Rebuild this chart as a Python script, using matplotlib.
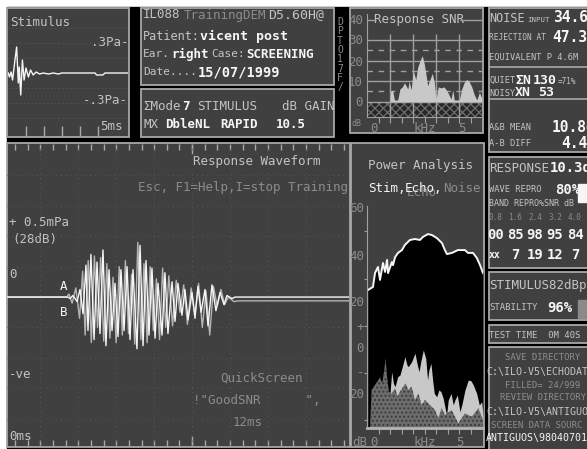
import numpy as np
import matplotlib
matplotlib.use("Agg")
import matplotlib.pyplot as plt
from matplotlib.patches import Rectangle

# ─── DATA ─────────────────────────────────────────────────────────────────────

# stimulus click: time (ms) / pressure (Pa)
stim_t = [0.01, 0.06, 0.13, 0.19, 0.29, 0.36, 0.43, 0.47, 0.53, 0.60, 0.67, 0.75,
          0.85, 0.94, 1.05, 1.17, 1.31, 1.47, 1.68, 1.89, 2.10, 2.24, 3.63, 3.69,
          3.95, 4.04, 5.0]
stim_pa = [0.0, -0.04, 0.01, -0.07, 0.13, 0.26, -0.10, 0.06, -0.22, 0.13, -0.07, 0.05,
           -0.04, 0.03, -0.02, 0.01, -0.01, 0.0, -0.01, 0.0, -0.01, 0.0, 0.0, -0.02,
           -0.02, 0.0, 0.0]

# response waveform, buffer A: time (ms) / pressure (mPa)
wave_a_t = [0.0, 4.92, 5.08, 5.32, 5.65, 5.89, 6.13, 6.37, 6.53, 6.77, 7.02, 7.26,
            7.50, 7.74, 7.98, 8.23, 8.47, 8.71, 8.95, 9.19, 9.44, 9.68, 9.92, 10.16,
            10.48, 10.73, 10.97, 11.21, 11.45, 11.69, 11.94, 12.18, 12.50, 12.74,
            12.98, 13.31, 13.55, 13.79, 14.11, 14.35, 14.60, 14.92, 15.16, 15.40,
            15.65, 15.97, 16.21, 16.53, 16.85, 17.18, 17.50, 17.74, 18.15, 18.39, 27.58]
wave_a_mpa = [0.0, 0.0, -0.01, 0.01, -0.03, 0.05, -0.11, 0.21, -0.22, 0.28, -0.28, 0.23,
              -0.24, 0.31, -0.32, 0.18, -0.22, 0.09, -0.26, 0.18, -0.22, 0.20, -0.28,
              0.18, -0.34, 0.34, -0.32, 0.24, -0.25, 0.19, -0.27, 0.09, -0.25, 0.16,
              -0.24, 0.10, -0.16, 0.09, -0.12, 0.05, -0.15, 0.03, -0.14, 0.07, -0.10,
              0.05, -0.19, 0.08, -0.09, 0.03, -0.05, 0.01, -0.01, 0.0, 0.0]

# response waveform, buffer B
wave_b_t = [0.0, 4.80, 5.00, 5.25, 5.55, 5.85, 6.10, 6.30, 6.55, 6.80, 7.05, 7.30,
            7.55, 7.80, 8.05, 8.30, 8.55, 8.80, 9.05, 9.30, 9.55, 9.80, 10.05, 10.30,
            10.55, 10.80, 11.05, 11.30, 11.55, 11.80, 12.05, 12.30, 12.55, 12.80,
            13.05, 13.35, 13.65, 13.95, 14.25, 14.55, 14.85, 15.15, 15.45, 15.75,
            16.05, 16.35, 16.65, 16.95, 17.25, 17.55, 17.85, 18.30, 18.70, 27.58]
wave_b_mpa = [0.0, 0.0, 0.02, -0.04, 0.06, -0.14, 0.17, -0.25, 0.24, -0.30, 0.27, -0.20,
              0.26, -0.29, 0.22, -0.27, 0.13, -0.30, 0.20, -0.25, 0.24, -0.24, 0.15,
              -0.31, 0.36, -0.28, 0.22, -0.30, 0.20, -0.22, 0.12, -0.28, 0.19, -0.20,
              0.14, -0.19, 0.11, -0.10, 0.08, -0.18, 0.06, -0.12, 0.09, -0.20, 0.04,
              -0.25, 0.07, -0.06, 0.05, -0.05, 0.0, -0.03, -0.025, -0.025]

# response SNR spectrum: kHz / dB
snr_khz = [1.24, 1.27, 1.38, 1.47, 1.65, 1.77, 1.90, 2.01, 2.10, 2.19, 2.27, 2.37,
           2.49, 2.62, 2.72, 2.85, 2.97, 3.08, 3.17, 3.26, 3.35, 3.51, 3.62, 3.71,
           3.83, 3.98, 4.14, 4.28, 4.41, 4.52, 4.61, 4.69, 4.96, 5.09, 5.23, 5.36,
           5.48, 5.63, 5.77, 5.90, 6.04, 6.17]
snr_db = [0, 5.0, 5.5, 0.8, 0.8, 6.2, 7.2, 9.2, 7.8, 6.2, 10.0, 5.8, 15.0, 10.8,
          16.7, 20.0, 22.5, 18.3, 13.3, 7.8, 10.0, 13.8, 9.2, 1.2, 7.2, 6.7, 7.2,
          5.5, 3.3, 1.2, 5.8, 0.8, 0.8, 6.2, 9.5, 10.8, 10.0, 7.2, 3.3, 0.8, 4.5, 1.7]

# power analysis: stimulus, echo and noise spectra, kHz / dB
pw_khz = [0.05, 0.32, 0.43, 0.59, 0.70, 0.86, 0.97, 1.08, 1.13, 1.34, 1.40, 1.51,
          1.67, 1.88, 2.04, 2.31, 2.58, 2.85, 3.01, 3.28, 3.49, 3.76, 4.03, 4.19,
          4.30, 4.57, 4.89, 5.27, 5.43, 5.70, 5.91, 6.08, 6.24]
pw_db = [25.1, 26.4, 32.3, 34.9, 29.4, 36.6, 32.8, 37.9, 32.3, 37.0, 35.7, 39.1,
         40.9, 42.1, 44.3, 46.4, 46.8, 46.4, 47.7, 48.9, 48.5, 47.2, 45.1, 42.1,
         40.4, 40.9, 42.1, 42.1, 40.9, 40.9, 38.7, 35.7, 32.3]
echo_khz = [1.20, 1.25, 1.33, 1.42, 1.51, 1.65, 1.77, 1.90, 2.04, 2.15, 2.22, 2.40,
            2.58, 2.71, 2.80, 2.89, 3.03, 3.16, 3.26, 3.33, 3.44, 3.53, 3.62, 3.75,
            3.87, 3.98, 4.10, 4.19, 4.28, 4.37, 4.52, 4.64, 4.73, 4.86, 5.00, 5.12,
            5.27, 5.45, 5.59, 5.72, 5.90, 6.04, 6.17, 6.25]
echo_db = [-33.6, -17.4, -9.7, -14.6, -16.0, -11.8, -11.1, -7.5, -3.3, -6.8, -7.5,
           -5.4, -1.8, -6.8, -9.7, -5.4, -0.4, -4.0, -13.2, -8.9, -6.1, -13.2, -18.9,
           -20.3, -17.4, -18.2, -21.0, -24.6, -28.1, -21.7, -18.9, -23.8, -21.7,
           -19.6, -26.7, -23.1, -17.4, -13.2, -13.5, -15.3, -18.9, -23.8, -22.4, -28.8]
noise_khz = [0.16, 0.25, 0.43, 0.61, 0.70, 0.82, 0.93, 1.00, 1.08, 1.18, 1.33, 1.51,
             1.65, 1.77, 1.95, 2.08, 2.22, 2.40, 2.58, 2.76, 2.94, 3.12, 3.39, 3.66,
             3.83, 4.02, 4.19, 4.55, 4.91, 5.27, 5.63, 5.99, 6.25]
noise_db = [-33.6, -17.4, -15.3, -13.2, -12.0, -14.6, -8.9, -4.0, -11.8, -18.2, -18.9,
            -16.7, -20.3, -18.2, -16.0, -14.6, -17.4, -16.0, -21.7, -18.9, -23.8,
            -21.7, -23.8, -26.0, -29.5, -25.2, -28.1, -26.0, -31.6, -27.4, -28.8,
            -25.2, -30.2]

# band table in the RESPONSE box
band_khz = ["0.8", "1.6", "2.4", "3.2", "4.0"]
band_repro = ["00", "85", "98", "95", "84"]
band_snr = ["xx", "7", "19", "12", "7"]

# ─── STYLE ────────────────────────────────────────────────────────────────────

W, H = 587, 449
SCREEN = "#000000"
PANEL = "#404040"
EDGE = "#a8a8a8"
TXT = "#c4c4c4"
DIM = "#8c8c8c"
BRIGHT = "#f6f6f6"
LIGHTFILL = "#c8c8c8"
MONO = "DejaVu Sans Mono"
plt.rcParams["hatch.linewidth"] = 0.9

fig = plt.figure(figsize=(W / 100, H / 100), dpi=100)
fig.patch.set_facecolor("white")

# screen layer in pixel units, origin top-left
scr = fig.add_axes([0, 0, 1, 1])
scr.set_xlim(0, W)
scr.set_ylim(H, 0)
scr.axis("off")
scr.add_patch(Rectangle((7, 7), W, H, color=SCREEN, zorder=0))


def panel(x0, y0, x1, y1):
    scr.add_patch(Rectangle((x0, y0), x1 - x0, y1 - y0, facecolor=PANEL,
                            edgecolor=EDGE, lw=1.3, zorder=1))


def txt(x, y, s, size=9, color=TXT, weight="normal", ha="left", **kw):
    scr.text(x, y, s, fontsize=size, color=color, fontweight=weight, ha=ha,
             va="center", family=MONO, zorder=5, **kw)


def inset(x0, y0, x1, y1):
    ax = fig.add_axes([x0 / W, 1 - y1 / H, (x1 - x0) / W, (y1 - y0) / H])
    ax.patch.set_alpha(0)
    for s in ax.spines.values():
        s.set_visible(False)
    ax.set_xticks([])
    ax.set_yticks([])
    return ax


# ─── PANELS ───────────────────────────────────────────────────────────────────

panel(7, 8, 129, 137)        # stimulus
panel(141, 8, 334, 85)       # patient info
panel(141, 89, 334, 137)     # mode / gain
panel(350, 8, 483, 133)      # response SNR
panel(489, 8, 600, 152)      # noise
panel(489, 157, 600, 268)    # response
panel(489, 272, 600, 320)    # stimulus level
panel(489, 325, 600, 343)    # test time
panel(489, 347, 600, 460)    # directories
panel(7, 143, 350, 447)      # response waveform
panel(351, 143, 484, 447)    # power analysis

# ─── STIMULUS ─────────────────────────────────────────────────────────────────

ax = inset(8, 9, 128, 136)
ax.set_xlim(0, 5)
ax.set_ylim(-0.63, 0.64)
for lvl in (-0.45, -0.3, -0.15, 0.15, 0.3, 0.45):
    ax.axhline(lvl, color="#5c5c5c", lw=0.7, ls=(0, (1, 3)))
ax.plot(stim_t, stim_pa, color=BRIGHT, lw=1.0)
ax.set_xticks([0.75, 1.5, 2.25, 3.0, 3.75])
ax.tick_params(axis="x", direction="in", length=7, width=1, color=EDGE,
               labelbottom=False)

txt(10, 22, "Stimulus", 9)
txt(128, 43, ".3Pa-", 9, ha="right")
txt(128, 100, "-.3Pa-", 9, ha="right")
txt(123, 126, "5ms", 9, ha="right")

# ─── PATIENT INFO ─────────────────────────────────────────────────────────────

txt(143, 15, "IL088", 9)
txt(184, 15, "TrainingDEM", 9, DIM)
txt(268, 15, "D5.60H@", 9.5, TXT)
txt(143, 36, "Patient:", 8.5)
txt(200, 36, "vicent post", 9.5, BRIGHT, "bold")
txt(143, 54, "Ear.", 8)
txt(171, 54, "right", 9, BRIGHT, "bold")
txt(211, 54, "Case:", 8)
txt(246, 54, "SCREENING", 9, BRIGHT, "bold")
txt(143, 72, "Date....", 8)
txt(198, 72, "15/07/1999", 9.8, BRIGHT, "bold")

txt(143, 107, "ΣMode", 9)
txt(182, 107, "7", 9, BRIGHT, "bold")
txt(197, 107, "STIMULUS", 9)
txt(282, 107, "dB GAIN", 9)
txt(143, 125, "MX", 9)
txt(165, 125, "DbleNL", 9, BRIGHT, "bold")
txt(220, 125, "RAPID", 9, BRIGHT, "bold")
txt(276, 125, "10.5", 9, BRIGHT, "bold")

for i, ch in enumerate("DPTO17F/"):
    txt(340, 22 + i * 9.3, ch, 7, DIM, ha="center")

# ─── RESPONSE SNR ─────────────────────────────────────────────────────────────

ax = inset(367, 14, 482, 117)
ax.set_xlim(0, 6.18)
ax.set_ylim(-7.5, 42.8)
ax.fill_between([0, 6.18], -7.5, 0, facecolor="#262626", edgecolor="#6e6e6e",
                hatch="xxxx", lw=0)
ax.fill_between(snr_khz, snr_db, 0, color=LIGHTFILL, lw=0, zorder=3)
for lvl in (10, 20, 30):
    ax.axhline(lvl, color="#a0a0a0", lw=1.0, zorder=2)
for lvl in (5, 15, 25):
    ax.axhline(lvl, color="#a0a0a0", lw=1.0, ls=(0, (4, 4)), zorder=2)
ax.axhline(0, color="#a0a0a0", lw=1.0, zorder=2)
ax.hlines(40, 0, 0.5, color="#a0a0a0", lw=1.0)
ax.hlines(40, 5.0, 6.18, color="#a0a0a0", lw=1.0)
for k in (1.24, 2.47, 3.71, 4.95):
    ax.vlines(k, -7.5, 33, color="#a0a0a0", lw=1.0, zorder=2)
ax.spines["left"].set_visible(True)
ax.spines["left"].set_color("#a0a0a0")
ax.spines["bottom"].set_visible(True)
ax.spines["bottom"].set_color("#a0a0a0")
ax.set_xticks([0.62 * k for k in range(1, 10)])
ax.tick_params(axis="x", direction="out", length=4, color="#a0a0a0",
               labelbottom=False)

txt(419, 20, "Response SNR", 9, TXT, ha="center")
for lbl, yy in (("40", 20), ("30", 40), ("20", 62), ("10", 82), ("0", 102)):
    txt(363, yy, lbl, 9, DIM, ha="right")
txt(352, 123, "dB", 6, DIM)
txt(370, 128, "0", 9, DIM)
txt(425, 128, "kHz", 9, DIM, ha="center")
txt(462, 128, "5", 9, DIM, ha="center")

# ─── NOISE BOX ────────────────────────────────────────────────────────────────

txt(489, 18, "NOISE", 8.5, TXT)
txt(527, 20, "INPUT", 5.3, TXT)
txt(553, 18, "34.6", 10.5, BRIGHT, "bold")
txt(489, 38, "REJECTION AT", 5.7, TXT)
txt(552, 38, "47.3", 10.5, BRIGHT, "bold")
txt(489, 57, "EQUIVALENT P 4.6M", 6.2, TXT)
scr.hlines([67, 99], 489, 600, color=EDGE, lw=1.2, zorder=2)
txt(489, 80, "QUIET", 6.2, TXT)
txt(515, 80, "ΣN", 9.5, BRIGHT, "bold")
txt(533, 80, "130", 9.5, BRIGHT, "bold")
txt(558, 81, "=71%", 5.5, TXT)
txt(489, 93, "NOISY", 6.2, TXT)
txt(515, 93, "XN", 9.5, BRIGHT, "bold")
txt(538, 93, "53", 9.5, BRIGHT, "bold")
txt(489, 127, "A&B MEAN", 6.2, TXT)
txt(552, 127, "10.8d", 10.5, BRIGHT, "bold")
txt(489, 143, "A-B DIFF", 6.2, TXT)
txt(561, 143, "4.4d", 10.5, BRIGHT, "bold")

# ─── RESPONSE BOX ─────────────────────────────────────────────────────────────

txt(489, 168, "RESPONSE", 9, TXT)
txt(550, 168, "10.3d", 10, BRIGHT, "bold")
txt(489, 190, "WAVE REPRO", 6.2, TXT)
txt(555, 190, "80%", 10, BRIGHT, "bold")
scr.add_patch(Rectangle((578, 184), 12, 18, color=BRIGHT, zorder=3))
txt(489, 204, "BAND REPRO%SNR dB", 6.0, TXT)
for i, (f, r, s) in enumerate(zip(band_khz, band_repro, band_snr)):
    cx = 495 + 20 * i
    txt(cx, 218, f, 5.5, DIM, ha="center")
    txt(cx, 235, r, 10, BRIGHT, "bold", ha="center")
    txt(cx, 255, s, 10 if s != "xx" else 7, BRIGHT, "bold", ha="center")

txt(489, 285, "STIMULUS82dBp", 9, TXT)
txt(489, 308, "STABILITY", 6.5, TXT)
txt(547, 308, "96%", 10, BRIGHT, "bold")
scr.add_patch(Rectangle((578, 300), 12, 18, color="#8a8a8a", zorder=3))

txt(489, 335, "TEST TIME  0M 40S", 6.5, TXT)

txt(505, 357, "SAVE DIRECTORY", 6.5, DIM)
txt(486, 372, "C:\\ILO-V5\\ECHODAT", 7.2, TXT)
txt(505, 385, "FILLED= 24/999", 6.5, DIM)
txt(500, 398, "REVIEW DIRECTORY", 6.5, DIM)
txt(486, 412, "C:\\ILO-V5\\ANTIGUO", 7.2, TXT)
txt(491, 425, "SCREEN DATA SOURC", 6.5, DIM)
txt(486, 438, "ANTIGUOS\\98040701", 7.2, BRIGHT)

# ─── RESPONSE WAVEFORM ────────────────────────────────────────────────────────

ax = inset(7, 144, 349, 446)
ax.set_xlim(0, 27.58)
ax.set_ylim(-0.98, 1.007)
for lvl in (-0.8, -0.6, -0.4, -0.2, 0.2, 0.4, 0.6, 0.8):
    ax.axhline(lvl, color="#565656", lw=0.7, ls=(0, (1, 4)))
for t in np.arange(2.7, 27, 3.06):
    ax.axvline(t, color="#565656", lw=0.7, ls=(0, (1, 4)))
ax.plot(wave_b_t, wave_b_mpa, color="#b4b4b4", lw=1.0)
ax.plot(wave_a_t, wave_a_mpa, color=BRIGHT, lw=1.0)
ax.set_xticks([14.9])
ax.set_xticks(np.arange(0.65, 27.4, 1.02), minor=True)
ax.tick_params(axis="x", which="both", direction="in", top=True, bottom=True,
               color=EDGE, width=1, labelbottom=False)
ax.tick_params(axis="x", which="minor", length=4)
ax.tick_params(axis="x", which="major", length=7)

txt(193, 162, "Response Waveform", 9, TXT)
txt(138, 188, "Esc, F1=Help,I=stop Training", 9, DIM)
txt(9, 222, "+ 0.5mPa", 9, TXT)
txt(12, 240, "(28dB)", 9, TXT)
txt(9, 275, "0", 9, TXT)
txt(60, 286, "A", 9, BRIGHT)
txt(60, 313, "B", 9, BRIGHT)
txt(9, 375, "-ve", 9, TXT)
txt(220, 378, "QuickScreen", 9, DIM)
txt(193, 400, '!"GoodSNR      ",', 9, DIM)
txt(233, 423, "12ms", 9, DIM)
txt(9, 437, "0ms", 9, TXT)

# ─── POWER ANALYSIS ───────────────────────────────────────────────────────────

ax = inset(367, 200, 483, 428)
ax.set_xlim(0, 6.24)
ax.set_ylim(-33.6, 63.4)
ax.fill_between(pw_khz, pw_db, -33.6, color="black", lw=0)
ax.plot(pw_khz, pw_db, color=BRIGHT, lw=1.4)
ax.fill_between(echo_khz, echo_db, -33.6, color=LIGHTFILL, lw=0)
ax.fill_between(noise_khz, noise_db, -33.6, facecolor="#6c6c6c",
                edgecolor="#3a3a3a", hatch="....", lw=0)
ax.spines["left"].set_visible(True)
ax.spines["left"].set_color("#a0a0a0")
ax.spines["left"].set_bounds(-33.6, 61)
ax.spines["bottom"].set_visible(True)
ax.spines["bottom"].set_color("#b4b4b4")
ax.spines["bottom"].set_linewidth(2)
ax.set_xticks([0.62 * k for k in range(1, 10)])
ax.set_yticks([50, 30, 10, -10, -30])
ax.tick_params(axis="x", direction="out", length=4, color="#a0a0a0",
               labelbottom=False)
ax.tick_params(axis="y", direction="out", length=2, color="#a0a0a0",
               labelleft=False)

txt(368, 165, "Power Analysis", 9, TXT)
txt(368, 189, "Stim,", 9, BRIGHT)
txt(407, 192, "Echo", 9, DIM)
txt(405, 189, "Echo,", 9, BRIGHT)
txt(443, 189, "Noise", 9, DIM)
for lbl, yy in (("60", 208), ("40", 257), ("20", 302), ("+", 327), ("0", 348),
                ("-", 373), ("20", 395)):
    txt(364, yy, lbl, 9, DIM, ha="right")
txt(352, 442, "dB", 9, DIM)
txt(370, 442, "0", 9, DIM)
txt(425, 442, "kHz", 9, DIM, ha="center")
txt(460, 442, "5", 9, DIM, ha="center")

fig.savefig("out.png", dpi=100, facecolor=fig.get_facecolor())
